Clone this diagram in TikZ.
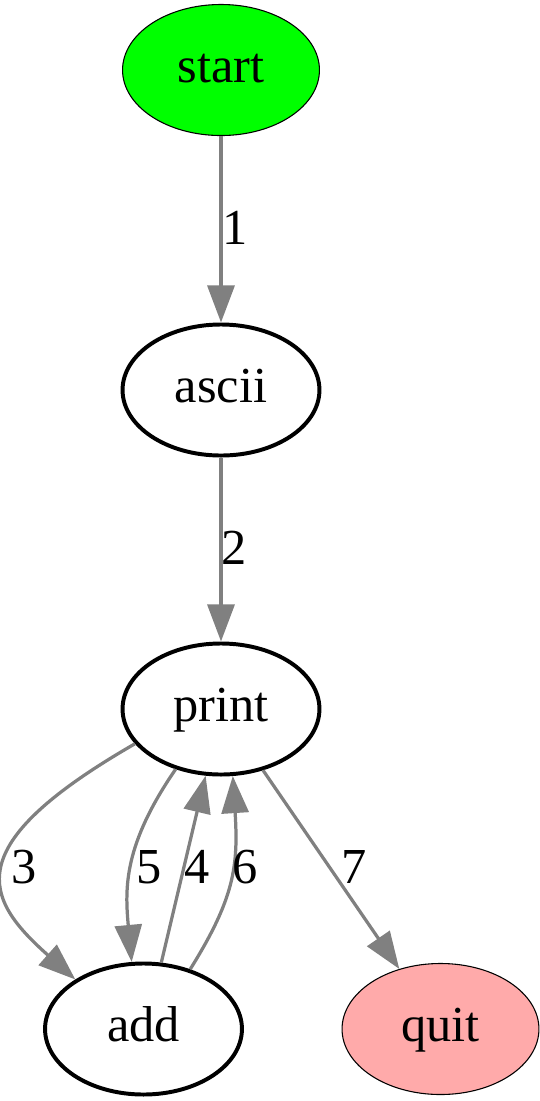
\documentclass[tikz,border=0pt]{standalone}
\usepackage{fontspec}
\setmainfont{Liberation Serif}
\usetikzlibrary{arrows.meta}
\usetikzlibrary{shapes.geometric}
\definecolor{startgreen}{HTML}{00FF00}
\definecolor{quitpink}{HTML}{FFAAAA}
\definecolor{flowgray}{HTML}{808080}
\tikzset{task/.style = {draw, ellipse, line width = 1.1pt, inner sep = 0,
                        minimum width = 54.7pt, minimum height = 36.4pt,
                        text height = 10pt, text depth = 3pt,
                        font = \fontsize{14pt}{16pt}\selectfont}}
\tikzset{thintask/.style = {task, line width = 0.3pt}}
\tikzset{flow/.style = {draw = flowgray, line width = 0.9pt,
                        -{Triangle[length = 10.3pt, width = 7.5pt]}}}
\tikzset{num/.style = {inner sep = 0, font = \fontsize{14pt}{16pt}\selectfont}}

\begin{document}
\begin{tikzpicture}[x = 0.2778pt, y = -0.2778pt]
      \useasboundingbox (0, 0) rectangle (540, 1101);
      \node [thintask, fill = startgreen] (start) at (221, 70) {start};
      \node [task] (ascii) at (221, 390) {ascii};
      \node [task] (print) at (221, 709) {print};
      \node [task] (add) at (143.5, 1029) {add};
      \node [thintask, fill = quitpink] (quit) at (440.5, 1029) {quit};
      \draw [flow] (start) -- (ascii);
      \draw [flow] (ascii) -- (print);
      \draw [flow] (print.202) .. controls (-43.5, 846.4) and (-15.6, 898.7) .. (add.144);
      \draw [flow] (print.233) .. controls (123.8, 844.7) and (124.7, 887.1) .. (add.100);
      \draw [flow] (add.75.5) -- (print.257);
      \draw [flow] (add.52) .. controls (234.2, 898.7) and (238.5, 866.3) .. (print.280);
      \draw [flow] (print) -- (quit);
      \node [num] (n1) at (235, 227.5) {1};
      \node [num] (n2) at (234, 547.5) {2};
      \node [num] (n3) at (23.7, 867) {3};
      \node [num] (n5) at (148.8, 867) {5};
      \node [num] (n4) at (197.5, 867) {4};
      \node [num] (n6) at (245.3, 867) {6};
      \node [num] (n7) at (354.5, 867) {7};
    \end{tikzpicture}
\end{document}
